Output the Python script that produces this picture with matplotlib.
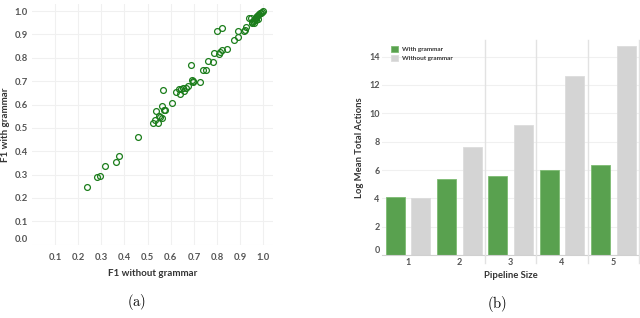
import matplotlib
matplotlib.use("Agg")
import matplotlib.pyplot as plt
import matplotlib.transforms as mtransforms
import numpy as np

plt.rcParams["font.family"] = ["Lato", "DejaVu Sans"]
plt.rcParams["mathtext.fontset"] = "cm"

# (a) F1 scores with / without grammar
f1_without = [0.237, 0.280, 0.294, 0.317, 0.363, 0.378, 0.457, 0.525, 0.546, 0.530,
              0.535, 0.549, 0.552, 0.562, 0.563, 0.568, 0.572, 0.576, 0.605, 0.622,
              0.635, 0.643, 0.651, 0.642, 0.659, 0.665, 0.676, 0.689, 0.690, 0.694,
              0.697, 0.725, 0.741, 0.752, 0.762, 0.784, 0.788, 0.801, 0.820, 0.808,
              0.812, 0.820, 0.841, 0.873, 0.890, 0.890, 0.915, 0.920, 0.925, 0.936,
              0.945, 0.950, 0.956, 0.960, 0.963, 0.966, 0.970, 0.974, 0.978, 0.982,
              0.986, 0.990, 0.994, 0.998, 0.960, 0.952, 0.968, 0.976]
f1_with = [0.245, 0.292, 0.294, 0.338, 0.354, 0.380, 0.463, 0.521, 0.520, 0.532,
           0.572, 0.550, 0.545, 0.595, 0.542, 0.664, 0.575, 0.578, 0.607, 0.652,
           0.665, 0.668, 0.672, 0.647, 0.660, 0.670, 0.680, 0.768, 0.706, 0.695,
           0.700, 0.698, 0.747, 0.749, 0.788, 0.782, 0.821, 0.914, 0.929, 0.815,
           0.825, 0.834, 0.840, 0.877, 0.890, 0.917, 0.915, 0.920, 0.930, 0.972,
           0.972, 0.955, 0.957, 0.962, 0.966, 0.970, 0.974, 0.978, 0.982, 0.986,
           0.990, 0.994, 0.998, 1.000, 0.948, 0.950, 0.960, 0.968]

# (b) log mean total actions per pipeline size
pipeline_size = [1, 2, 3, 4, 5]
with_grammar = [4.07, 5.34, 5.57, 6.03, 6.35]
without_grammar = [4.00, 7.60, 9.17, 12.63, 14.77]

tick_col = "#555555"
lab_col = "#333333"
grid_col = "#f0f0f0"

fig = plt.figure(figsize=(6.4, 3.18), dpi=100)

# ---- (a) scatter
ax1 = fig.add_axes([0.0498, 0.2305, 0.3762, 0.7565])
ax1.plot(f1_without, f1_with, linestyle="none", marker="o", markersize=4.2,
         markerfacecolor="none", markeredgecolor="#1b7d1b", markeredgewidth=0.9)
ax1.set_xlim(0, 1.04)
ax1.set_ylim(0, 1.03)
ax1.set_xticks(np.arange(1, 11) / 10)
ax1.set_yticks(np.arange(0, 11) / 10)
ax1.set_xticklabels(["%.1f" % v for v in np.arange(1, 11) / 10])
ax1.set_yticklabels(["%.1f" % v for v in np.arange(0, 11) / 10])
ax1.grid(True, color=grid_col, linewidth=0.8)
ax1.set_axisbelow(True)
for s in ax1.spines.values():
    s.set_visible(False)
ax1.tick_params(length=0, labelsize=6.8, labelcolor=tick_col)
ax1.tick_params(axis="x", pad=6)
ax1.tick_params(axis="y", pad=3)
for t in ax1.get_xticklabels() + ax1.get_yticklabels():
    t.set_fontweight("bold")
ax1.set_xlabel("F1 without grammar", fontsize=7, fontweight="bold", color=lab_col, labelpad=5)
ax1.set_ylabel("F1 with grammar", fontsize=7, fontweight="bold", color=lab_col, labelpad=3)
off = mtransforms.ScaledTranslation(0, 6.5 / 100, fig.dpi_scale_trans)
lab0 = ax1.get_yticklabels()[0]
lab0.set_transform(lab0.get_transform() + off)

# ---- (b) bars
ax2 = fig.add_axes([0.5975, 0.198, 0.4009, 0.676])
x = np.array(pipeline_size)
w = 0.37
ax2.bar(x - 0.25, with_grammar, w, color="#59a14f", edgecolor="#7dbb72",
        linewidth=0.6, label="With grammar")
ax2.bar(x + 0.25, without_grammar, w, color="#d4d4d4", edgecolor="#dcdcdc",
        linewidth=0.6, label="Without grammar")
ax2.set_xlim(0.5, 5.5)
ax2.set_ylim(0, 15.17)
ax2.set_xticks(pipeline_size)
ax2.set_yticks(range(0, 15, 2))
ax2.yaxis.grid(True, color=grid_col, linewidth=0.8)
ax2.set_axisbelow(True)
for s in ax2.spines.values():
    s.set_visible(False)
ax2.axhline(0, color="#d0d0d0", linewidth=0.8, clip_on=False)
for b in [2.5, 3.5, 4.5, 5.5]:
    ax2.plot([b, b], [-0.55, 15.17], color="#e2e2e2", linewidth=1.0, clip_on=False)
ax2.tick_params(length=0, labelsize=6.5, labelcolor=tick_col)
ax2.tick_params(axis="x", pad=2)
ax2.tick_params(axis="y", pad=2)
for t in ax2.get_xticklabels() + ax2.get_yticklabels():
    t.set_fontweight("bold")
ax2.set_xlabel("Pipeline Size", fontsize=6.8, fontweight="bold", color=lab_col, labelpad=3)
ax2.set_ylabel("Log Mean Total Actions", fontsize=6.8, fontweight="bold", color=lab_col, labelpad=4)
off2 = mtransforms.ScaledTranslation(0, 6 / 100, fig.dpi_scale_trans)
lab0 = ax2.get_yticklabels()[0]
lab0.set_transform(lab0.get_transform() + off2)
leg = ax2.legend(loc="upper left", bbox_to_anchor=(0.02, 0.99), frameon=False,
                 fontsize=4.6, handlelength=1.1, handleheight=1.1, handletextpad=0.6,
                 labelspacing=0.4, borderaxespad=0.2)
for t in leg.get_texts():
    t.set_fontweight("bold")
    t.set_color(lab_col)

fig.text(137 / 640, 1 - 301.7 / 318, r"$\mathrm{(a)}$", fontsize=10.5, ha="center", va="center")
fig.text(496.7 / 640, 1 - 304 / 318, r"$\mathrm{(b)}$", fontsize=10.5, ha="center", va="center")

fig.savefig("out.png", dpi=100)
